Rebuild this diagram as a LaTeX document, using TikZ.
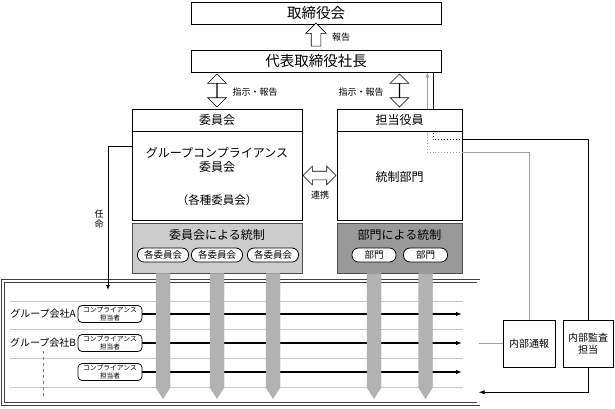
\documentclass[tikz,border=0pt]{standalone}
\usepackage{fontspec}
\setmainfont{Noto Sans CJK JP}
\usetikzlibrary{calc,positioning,shapes.arrows,arrows.meta}

\newcommand{\fsz}[1]{\fontsize{#1}{#1}\selectfont}

\begin{document}
\begin{tikzpicture}[x=1pt,y=-1pt,
  box/.style={draw,line width=0.9pt,fill=white,inner sep=0pt},
  ctl/.style={draw=gray!60!black,line width=0.8pt,inner sep=0pt},
  pill/.style={draw,line width=0.8pt,fill=white,rounded corners=6.5pt,inner sep=0pt,minimum height=14pt},
  hollow/.style={draw,line width=0.6pt,fill=white},
  lbl/.style={font=\fsz{9}},
  flow/.style={fill=gray!60,draw=gray!70,line width=0.4pt},
  gline/.style={draw=gray!75,line width=0.9pt},
  bline/.style={draw=black,line width=0.9pt},
  rowline/.style={draw=gray!45,line width=0.7pt}]
\useasboundingbox (0,0) rectangle (615,408);

\node[box,minimum width=250,minimum height=22,font=\fsz{14.5}] (board) at (316,13) {取締役会};
\node[box,minimum width=250,minimum height=22,font=\fsz{14.5}] (pres) at (316,61) {代表取締役社長};
\node[hollow,single arrow,shape border rotate=90,minimum height=23,inner sep=4.5pt,
      single arrow head extend=5.5,single arrow head indent=0] (repup)
      at ($(board.south)!0.5!(pres.north)$) {};
\node[lbl] (replbl) at (341,37) {報告};

\node[box,minimum width=170,minimum height=22,font=\fsz{12}] (commhead) at (217,120) {委員会};
\node[box,minimum width=170,minimum height=89] (commbody) at (217,175.5) {};
\node[font=\fontsize{12}{14}\selectfont,align=center] (gcc) at (217,160) {グループコンプライアンス\\委員会};
\node[font=\fsz{11.5}] (each) at (217,200) {（各種委員会）};

\node[box,minimum width=125,minimum height=22,font=\fsz{12}] (offhead) at (399.5,120) {担当役員};
\node[box,minimum width=125,minimum height=89] (offbody) at (399.5,175.5) {};
\node[font=\fsz{12}] (dept) at (399.5,177) {統制部門};

\node[hollow,double arrow,shape border rotate=90,minimum height=33,inner xsep=0pt,inner ysep=3.5pt,
      double arrow head extend=9,double arrow head indent=0] (instl)
      at ($(pres.south -| commhead.north)!0.5!(commhead.north)$) {};
\node[hollow,double arrow,shape border rotate=90,minimum height=33,inner xsep=0pt,inner ysep=3.5pt,
      double arrow head extend=9,double arrow head indent=0] (instr)
      at ($(pres.south -| offhead.north)!0.5!(offhead.north)$) {};
\node[lbl] (instllbl) at (255,92) {指示・報告};
\node[lbl] (instrlbl) at (361,92) {指示・報告};

\node[hollow,double arrow,minimum height=33,inner xsep=0pt,inner ysep=4pt,
      double arrow head extend=5,double arrow head indent=0] (link)
      at ($(commbody.east)!0.5!(offbody.west)$) {};
\node[lbl] (linklbl) at (320,195) {連携};

\node[ctl,fill=gray!40,minimum width=170,minimum height=50] (cctl) at (217,248) {};
\node[font=\fsz{12}] (cctltxt) at (217,235) {委員会による統制};
\foreach \n/\x in {c1/163,c2/217,c3/273}
  \node[pill,minimum width=51,font=\fsz{9.5}] (\n) at (\x,255) {各委員会};

\node[ctl,fill=gray!80,minimum width=125,minimum height=50] (dctl) at (399.5,248) {};
\node[font=\fsz{12}] (dctltxt) at (399.5,235) {部門による統制};
\foreach \n/\x in {d1/374,d2/425.5}
  \node[pill,minimum width=44,font=\fsz{9.5}] (\n) at (\x,255) {部門};

\node[draw=gray!50!black,double,double distance=2.4pt,line width=0.45pt,
      minimum width=475.5,minimum height=123,inner sep=0pt] (group) at (240.75,342.5) {};
\foreach \y in {301,329,358,387}
  \draw[rowline] (10,\y) -- (463,\y);

\coordinate (rowend) at (462,0);
\foreach \r/\y in {1/314,2/343,3/372}{
  \node[pill,minimum width=64,minimum height=17,rounded corners=4pt,
        font=\fontsize{6.8}{7.4}\selectfont,align=center] (cp\r) at (110,\y) {コンプライアンス\\担当者};
  \draw[line width=1.2pt,-{Latex[length=6pt,width=4.5pt]}] (cp\r.east) -- (cp\r.east -| rowend);
}
\node[font=\fsz{10}] (compA) at (43,314) {グループ会社A};
\node[font=\fsz{10}] (compB) at (43,343) {グループ会社B};
\draw[gray,dashed,line width=0.4pt] (compB.south) -- ++(0,48);

\foreach \p in {c1,c2,c3,d1,d2}
  \filldraw[flow] (\p.south |- cctl.south) ++(-7,0) -- ++(0,114) -- ++(7,11)
                  -- ++(7,-11) -- ++(0,-114) -- cycle;

\node[box,minimum width=52,minimum height=47,font=\fsz{10}] (whistle) at (529,343.5) {内部通報};
\node[box,minimum width=50,minimum height=47,font=\fontsize{10}{12}\selectfont,align=center]
      (audit) at (588,343.5) {内部監査\\担当};

\coordinate (wport) at ($(offbody.north east)+(0,22)$);
\coordinate (aport) at ($(offbody.north east)+(0,9)$);
\coordinate (wcorner) at ($(offbody.north east)+(-35,0)$);
\coordinate (acorner) at ($(offbody.north east)+(-29,0)$);

\draw[gline] (whistle.west) -- (whistle.west -| group.east);
\draw[gline] (whistle.north) |- (wport);
\draw[gline,dotted] (wport) -| (wcorner);
\draw[gline,-{Latex[length=5pt,width=4pt]}] (wcorner |- offhead.north) -- (wcorner |- pres.south);
\draw[bline] (audit.north) |- (aport);
\draw[bline,dotted] (aport) -| (acorner);
\draw[bline] (acorner |- offhead.north) -- (acorner |- pres.south);
\draw[bline,-{Latex[length=6pt,width=4.5pt]}] (audit.south) |- ($(group.south east)+(0,-12)$);

\coordinate (apptend) at (108,290);
\draw[bline,-{Latex[length=5pt,width=4pt]}] ($(commbody.north west)+(0,16)$) -| (apptend);
\node[font=\fontsize{9}{10.5}\selectfont,align=center] (appt) at (99,219) {任\\命};
\end{tikzpicture}
\end{document}
